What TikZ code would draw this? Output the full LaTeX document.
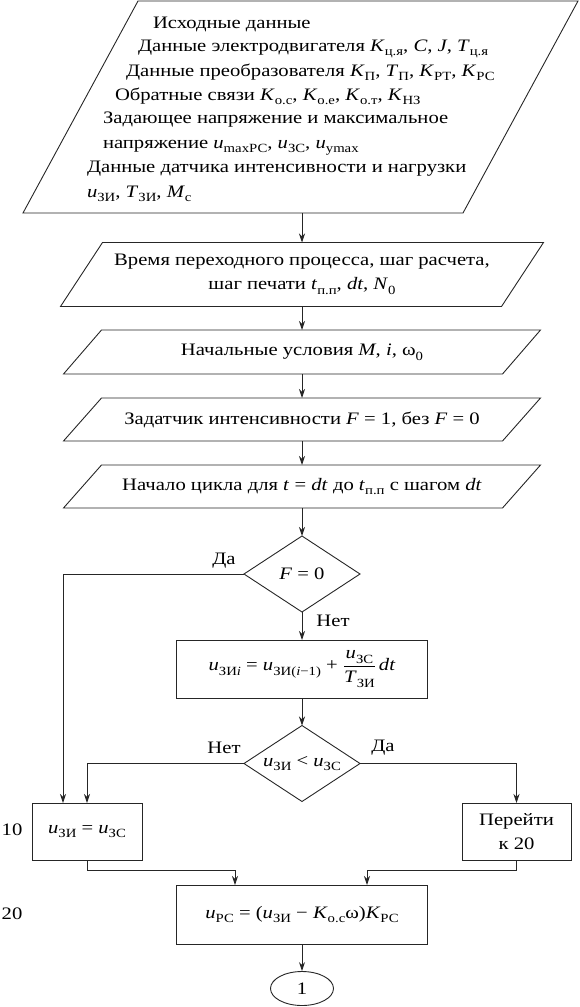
\documentclass[tikz,border=0pt]{standalone}
\usepackage{fontspec}
\setmainfont[FakeStretch=1.18]{Liberation Serif}
\usetikzlibrary{shapes.geometric,arrows.meta,calc}
\newcommand\sbs[1]{\raisebox{-0.28em}{\fontsize{12.5}{12.5}\selectfont #1}}
\newcommand\V[1]{\textit{#1}}
\newcommand\para[2]{\draw[line] ([xshift=#2pt]#1.north west) -- ([xshift=#2pt]#1.north east) -- ([xshift=-#2pt]#1.south east) -- ([xshift=-#2pt]#1.south west) -- cycle;}
\tikzset{
 line/.style={draw=black!85, line width=0.9pt},
 arr/.style={line, -{Stealth[length=9pt,width=6pt]}},
 pb/.style={inner sep=0pt, outer sep=0pt, align=center},
 rbox/.style={draw=black!85, line width=0.9pt, inner sep=0pt, outer sep=0pt, align=center},
 dia/.style={diamond, draw=black!85, line width=0.9pt, inner sep=0pt, outer sep=0pt, minimum width=116pt, minimum height=76pt, aspect=1.5},
 txt/.style={inner sep=0pt, outer sep=0pt, anchor=base west},
 lbl/.style={inner sep=0pt, outer sep=0pt}
}
\begin{document}
\begin{tikzpicture}[x=1pt,y=-1pt,font=\fontsize{17.5}{24}\selectfont]
\useasboundingbox (0,0) rectangle (580,1007);
% input parallelograms
\node[pb, minimum width=440pt, minimum height=212pt] (in1) at (300.5,107) {};
\para{in1}{57.5}
\node[txt] (t1) at (153,28) {Исходные данные};
\node[txt] (t2) at (138,51) {Данные электродвигателя \V{K}\sbs{ц.я}, \V{C}, \V{J}, \V{T}\sbs{ц.я}};
\node[txt] (t3) at (126,76) {Данные преобразователя \V{K}\sbs{П}, \V{T}\sbs{П}, \V{K}\sbs{РТ}, \V{K}\sbs{РС}};
\node[txt] (t4) at (115,100) {Обратные связи \V{K}\sbs{о.с}, \V{K}\sbs{о.е}, \V{K}\sbs{о.т}, \V{K}\sbs{НЗ}};
\node[txt] (t5) at (103,123) {Задающее напряжение и максимальное};
\node[txt] (t6) at (103,148) {напряжение \V{u}\sbs{maxРС}, \V{u}\sbs{ЗС}, \V{u}\sbs{уmax}};
\node[txt] (t7) at (87,172) {Данные датчика интенсивности и нагрузки};
\node[txt] (t8) at (87,197) {\V{u}\sbs{ЗИ}, \V{T}\sbs{ЗИ}, \V{M}\sbs{с}};

\node[pb, minimum width=441pt, minimum height=64pt] (in2) at (302,274.5) {Время переходного процесса, шаг расчета,\\шаг печати \V{t}\sbs{п.п}, \V{dt}, \V{N}\sbs{0}};
\para{in2}{21}
\node[pb, minimum width=439pt, minimum height=44pt] (in3) at (302,352) {Начальные условия \V{M}, \V{i}, ω\sbs{0}};
\para{in3}{19}
\node[pb, minimum width=439pt, minimum height=43pt] (in4) at (302,419.5) {Задатчик интенсивности \V{F} = 1, без \V{F} = 0};
\para{in4}{19}
\node[pb, minimum width=439pt, minimum height=43pt] (in5) at (302,486.5) {Начало цикла для \V{t} = \V{dt} до \V{t}\sbs{п.п} с шагом \V{dt}};
\para{in5}{19}

% decisions and process boxes
\node[dia] (d1) at (302,574) {\V{F} = 0};
\node[rbox, minimum width=251pt, minimum height=58pt] (calc) at (302,669) {\V{u}\sbs{ЗИ\V{i}} = \V{u}\sbs{ЗИ(\V{i}−1)} + $\displaystyle\frac{\hbox{\V{u}\sbs{ЗС}}}{\hbox{\V{T}\sbs{ЗИ}}}$\,\V{dt}};
\node[dia] (d2) at (302,763.5) {\V{u}\sbs{ЗИ} < \V{u}\sbs{ЗС}};
\node[rbox, minimum width=110pt, minimum height=57pt] (b10) at (87,831.5) {\V{u}\sbs{ЗИ} = \V{u}\sbs{ЗС}};
\node[rbox, minimum width=109pt, minimum height=57pt] (go) at (516.5,831.5) {Перейти\\к 20};
\node[rbox, minimum width=251pt, minimum height=59pt] (b20) at (302,914.5) {\V{u}\sbs{РС} = (\V{u}\sbs{ЗИ} − \V{K}\sbs{о.с}ω)\V{K}\sbs{РС}};
\node[ellipse, draw=black!85, line width=0.9pt, inner sep=0pt, minimum width=63pt, minimum height=34pt] (c1) at (302,988.5) {1};

% labels
\node[lbl] (l1) at (224,561) {Да};
\node[lbl] (l2) at (333,621) {Нет};
\node[lbl] (l3) at (224,748) {Нет};
\node[lbl] (l4) at (383,748) {Да};
\node[lbl] (l10) at (12,830) {10};
\node[lbl] (l20) at (12,914) {20};

% connectors
\draw[arr] (in1.south -| in2.north) -- (in2.north);
\draw[arr] (in2.south) -- (in3.north);
\draw[arr] (in3.south) -- (in4.north);
\draw[arr] (in4.south) -- (in5.north);
\draw[arr] (in5.south) -- (d1.north);
\draw[arr] (d1.south) -- (calc.north);
\draw[arr] (calc.south) -- (d2.north);
\draw[arr] (d1.west) -| ([xshift=-24pt]b10.north);
\draw[arr] (d2.west) -| (b10.north);
\draw[arr] (d2.east) -| (go.north);
\draw[arr] (b10.south) -- ++(0,10) -| ([xshift=-67pt]b20.north);
\draw[arr] (go.south) -- ++(0,10) -| ([xshift=65pt]b20.north);
\draw[arr] (b20.south) -- (c1.north);
\end{tikzpicture}
\end{document}
